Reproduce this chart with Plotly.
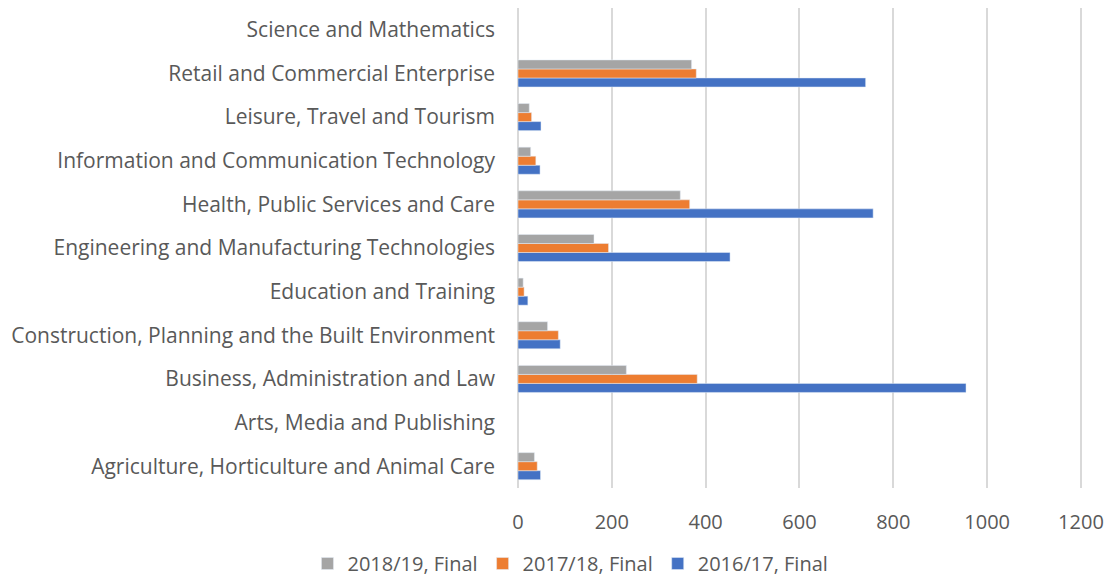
import plotly.graph_objects as go

categories = ['Agriculture, Horticulture and Animal Care',
              'Arts, Media and Publishing',
              'Business, Administration and Law',
              'Construction, Planning and the Built Environment',
              'Education and Training',
              'Engineering and Manufacturing Technologies',
              'Health, Public Services and Care',
              'Information and Communication Technology',
              'Leisure, Travel and Tourism',
              'Retail and Commercial Enterprise',
              'Science and Mathematics']

final_1617 = [48, None, 955, 90, 21, 452, 757, 47, 49, 741, None]
final_1718 = [41, None, 382, 86, 13, 193, 366, 38, 29, 380, None]
final_1819 = [35, None, 231, 63, 11, 162, 346, 27, 24, 370, None]

x_ticks = [0, 200, 400, 600, 800, 1000, 1200]

fig = go.Figure()
fig.add_trace(go.Bar(y=categories, x=final_1617, orientation='h',
                     name='2016/17, Final', marker_color='#4472c4'))
fig.add_trace(go.Bar(y=categories, x=final_1718, orientation='h',
                     name='2017/18, Final', marker_color='#ed7d31'))
fig.add_trace(go.Bar(y=categories, x=final_1819, orientation='h',
                     name='2018/19, Final', marker_color='#a5a5a5'))

fig.update_layout(
    width=1112, height=583,
    barmode='group', bargap=0.38, bargroupgap=0,
    plot_bgcolor='white', paper_bgcolor='white',
    font=dict(family='Open Sans, sans-serif', size=20, color='#595959'),
    margin=dict(l=518, r=21, t=8, b=95),
    xaxis=dict(range=[0, 1215], tickvals=x_ticks, showgrid=True,
               gridcolor='#d9d9d9', gridwidth=2, zeroline=True,
               zerolinecolor='#d9d9d9', zerolinewidth=2,
               ticks='', ticklabelstandoff=20),
    yaxis=dict(showgrid=False, ticks='', ticklabelstandoff=22,
               tickfont=dict(size=21),
               categoryorder='array', categoryarray=categories),
    legend=dict(orientation='h', traceorder='reversed',
                xref='container', x=0.513, xanchor='center',
                yref='container', y=0.0, yanchor='bottom',
                font=dict(size=20), itemwidth=30),
    showlegend=True,
)

# drop the default body margin so the figure fills the window
fig.write_html("out.html", config={'displayModeBar': False},
               post_script="document.body.style.margin='0';")
